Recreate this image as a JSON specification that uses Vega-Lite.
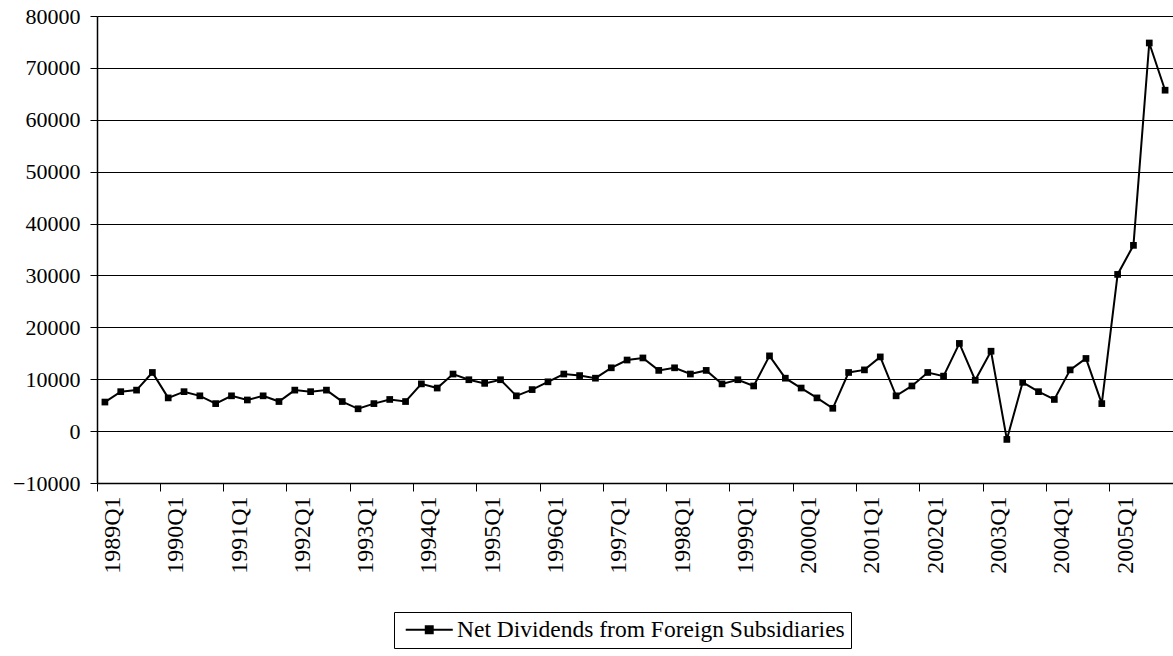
{
  "$schema": "https://vega.github.io/schema/vega-lite/v6.json",
  "autosize": {"type": "none"},
  "width": 1076,
  "height": 467,
  "padding": {"left": 97, "top": 16, "right": 0, "bottom": 173},
  "background": "white",
  "config": {
    "view": {"stroke": null},
    "font": "Times New Roman, Liberation Serif, DejaVu Serif, serif",
    "axis": {"labelFont": "Times New Roman, Liberation Serif, DejaVu Serif, serif", "labelColor": "black", "domainColor": "black", "tickColor": "black"},
    "legend": {"labelFont": "Times New Roman, Liberation Serif, DejaVu Serif, serif"}
  },
  "data": {"values": [
    {"q": "1989Q1", "v": 5600}, {"q": "1989Q2", "v": 7600}, {"q": "1989Q3", "v": 7900}, {"q": "1989Q4", "v": 11300},
    {"q": "1990Q1", "v": 6400}, {"q": "1990Q2", "v": 7600}, {"q": "1990Q3", "v": 6800}, {"q": "1990Q4", "v": 5300},
    {"q": "1991Q1", "v": 6800}, {"q": "1991Q2", "v": 6000}, {"q": "1991Q3", "v": 6800}, {"q": "1991Q4", "v": 5700},
    {"q": "1992Q1", "v": 7900}, {"q": "1992Q2", "v": 7600}, {"q": "1992Q3", "v": 7900}, {"q": "1992Q4", "v": 5700},
    {"q": "1993Q1", "v": 4300}, {"q": "1993Q2", "v": 5300}, {"q": "1993Q3", "v": 6100}, {"q": "1993Q4", "v": 5700},
    {"q": "1994Q1", "v": 9100}, {"q": "1994Q2", "v": 8300}, {"q": "1994Q3", "v": 11000}, {"q": "1994Q4", "v": 9900},
    {"q": "1995Q1", "v": 9200}, {"q": "1995Q2", "v": 9900}, {"q": "1995Q3", "v": 6800}, {"q": "1995Q4", "v": 8000},
    {"q": "1996Q1", "v": 9500}, {"q": "1996Q2", "v": 11000}, {"q": "1996Q3", "v": 10700}, {"q": "1996Q4", "v": 10200},
    {"q": "1997Q1", "v": 12200}, {"q": "1997Q2", "v": 13700}, {"q": "1997Q3", "v": 14100}, {"q": "1997Q4", "v": 11700},
    {"q": "1998Q1", "v": 12200}, {"q": "1998Q2", "v": 11000}, {"q": "1998Q3", "v": 11700}, {"q": "1998Q4", "v": 9100},
    {"q": "1999Q1", "v": 9900}, {"q": "1999Q2", "v": 8700}, {"q": "1999Q3", "v": 14500}, {"q": "1999Q4", "v": 10200},
    {"q": "2000Q1", "v": 8300}, {"q": "2000Q2", "v": 6400}, {"q": "2000Q3", "v": 4400}, {"q": "2000Q4", "v": 11300},
    {"q": "2001Q1", "v": 11800}, {"q": "2001Q2", "v": 14300}, {"q": "2001Q3", "v": 6800}, {"q": "2001Q4", "v": 8700},
    {"q": "2002Q1", "v": 11300}, {"q": "2002Q2", "v": 10600}, {"q": "2002Q3", "v": 16900}, {"q": "2002Q4", "v": 9800},
    {"q": "2003Q1", "v": 15400}, {"q": "2003Q2", "v": -1600}, {"q": "2003Q3", "v": 9400}, {"q": "2003Q4", "v": 7600},
    {"q": "2004Q1", "v": 6100}, {"q": "2004Q2", "v": 11800}, {"q": "2004Q3", "v": 14000}, {"q": "2004Q4", "v": 5300},
    {"q": "2005Q1", "v": 30200}, {"q": "2005Q2", "v": 35800}, {"q": "2005Q3", "v": 74800}, {"q": "2005Q4", "v": 65700}
  ]},
  "encoding": {
    "x": {
      "field": "q", "type": "ordinal", "sort": null,
      "scale": {"type": "band", "paddingInner": 0, "paddingOuter": 0},
      "axis": {
        "title": null,
        "values": ["1989Q1","1990Q1","1991Q1","1992Q1","1993Q1","1994Q1","1995Q1","1996Q1","1997Q1","1998Q1","1999Q1","2000Q1","2001Q1","2002Q1","2003Q1","2004Q1","2005Q1"],
        "bandPosition": 0,
        "labelOffset": 8,
        "labelAngle": -90,
        "labelFontSize": 24,
        "labelPadding": 5,
        "tickSize": 8,
        "grid": false,
        "domainWidth": 1.5
      }
    },
    "y": {
      "field": "v", "type": "quantitative",
      "scale": {"domain": [-10000, 80000], "nice": false, "zero": false},
      "axis": {
        "title": null,
        "values": [-10000, 0, 10000, 20000, 30000, 40000, 50000, 60000, 70000, 80000],
        "format": "d",
        "labelFontSize": 22,
        "labelPadding": 10,
        "tickSize": 7,
        "grid": true,
        "gridColor": "black",
        "gridOpacity": 1,
        "gridWidth": 1,
        "domainWidth": 1.5
      }
    }
  },
  "layer": [
    {
      "mark": {"type": "line", "color": "black", "strokeWidth": 2},
      "encoding": {
        "color": {
          "datum": "Net Dividends from Foreign Subsidiaries",
          "scale": {"range": ["black"]},
          "legend": {
            "title": null,
            "orient": "none",
            "legendX": 297,
            "legendY": 596,
            "strokeColor": "black",
            "fillColor": "white",
            "padding": 6,
            "labelFontSize": 23.5,
            "labelColor": "black",
            "labelLimit": 0,
            "symbolType": "M-3.92,0H3.92M-0.58,-0.58H0.58V0.58H-0.58Z",
            "symbolSize": 144,
            "symbolOffset": 17.5,
            "labelOffset": 16,
            "symbolStrokeColor": "black",
            "symbolFillColor": "black",
            "symbolStrokeWidth": 2
          }
        }
      }
    },
    {
      "mark": {"type": "point", "shape": "square", "filled": true, "color": "black", "size": 45, "opacity": 1}
    }
  ]
}
